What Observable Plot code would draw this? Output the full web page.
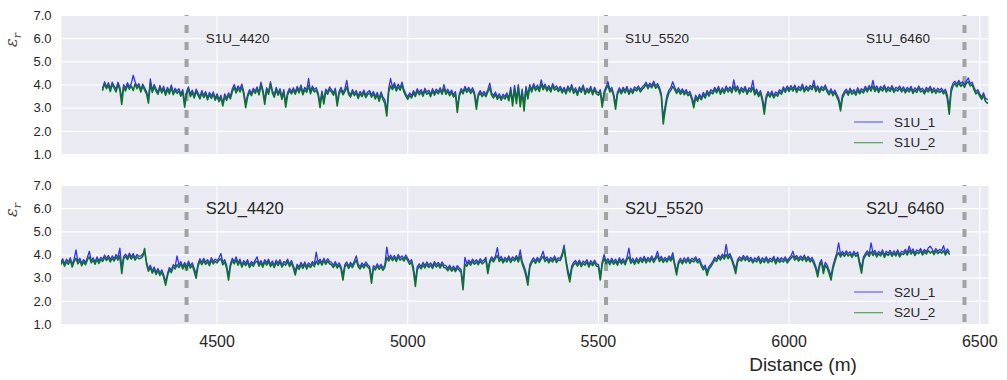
<!DOCTYPE html>
<html>
<head>
<meta charset="utf-8">
<script src="https://cdn.jsdelivr.net/npm/d3@7"></script>
<script src="https://cdn.jsdelivr.net/npm/@observablehq/plot@0.6"></script>
<style>
  body { margin: 0; background: #ffffff; }
  #chart { width: 1007px; height: 380px; font-family: "Liberation Sans", Arial, sans-serif; }
  #chart svg { display: block; }
</style>
</head>
<body>
<div id="chart"></div>
<script>
// Survey stations marked with dashed lines (m)
const stations = [4420, 5520, 6460];
const xTicks = [4500, 5000, 5500, 6000, 6500];
const yTicks = [1, 2, 3, 4, 5, 6, 7];

// Sampling of the permittivity profiles (distance in m)
const sampleStep = 5;
const s1Start = 4200;
const s2Start = 4090;

// Line S1U, receiver 1 (relative permittivity), one row per 100 m
const s1u1 = [
  3.88, 4.14, 3.92, 4.10, 3.84, 4.12, 3.96, 3.82, 4.12, 3.90, 3.40, 4.02, 3.86, 4.10, 3.92, 4.06, 4.42, 4.14, 3.94, 4.06,
  3.80, 4.04, 3.88, 3.72, 3.40, 4.26, 3.78, 4.02, 3.84, 3.70, 3.98, 3.76, 3.94, 3.66, 3.90, 3.72, 4.00, 3.68, 3.86, 3.74,
  3.84, 3.62, 3.80, 3.20, 3.72, 3.92, 3.60, 3.78, 3.54, 3.82, 3.66, 3.50, 3.76, 3.56, 3.72, 3.46, 3.68, 3.52, 3.70, 3.44,
  3.62, 3.38, 3.56, 3.22, 3.62, 3.44, 3.66, 3.52, 3.84, 4.02, 3.76, 3.96, 3.82, 4.04, 3.70, 3.20, 3.58, 3.80, 3.64, 3.86,
  3.74, 3.92, 3.68, 4.12, 3.80, 3.36, 3.88, 3.70, 4.14, 3.76, 3.58, 3.90, 3.66, 3.84, 3.50, 3.80, 3.20, 3.68, 3.86, 3.72,
  3.88, 3.70, 3.94, 3.76, 4.00, 3.68, 3.90, 3.78, 4.28, 3.72, 3.96, 3.80, 3.88, 3.66, 3.22, 3.74, 3.36, 3.82, 3.70, 3.92,
  3.80, 3.66, 3.86, 3.28, 3.72, 3.90, 3.68, 3.82, 4.20, 3.70, 3.58, 3.80, 3.64, 3.76, 3.52, 3.72, 3.60, 3.78, 3.56, 3.70,
  3.76, 3.58, 3.72, 3.50, 3.68, 3.42, 3.70, 3.48, 3.36, 2.90, 3.84, 4.28, 3.90, 4.10, 3.84, 4.04, 3.88, 4.12, 3.80, 3.62,
  3.48, 3.66, 3.54, 3.76, 3.60, 3.84, 3.68, 3.80, 3.62, 3.86, 3.70, 3.78, 3.60, 3.84, 3.66, 3.82, 3.72, 3.88, 3.70, 4.02,
  3.70, 3.82, 3.64, 3.78, 3.58, 3.72, 3.04, 3.60, 3.84, 3.72, 3.94, 3.78, 3.90, 3.74, 3.88, 3.68, 3.18, 3.62, 3.76, 3.60,
  3.72, 3.60, 3.80, 4.08, 3.66, 3.54, 3.70, 3.48, 3.62, 3.44, 3.60, 3.50, 3.66, 3.42, 3.90, 3.30, 3.98, 3.40, 4.02, 3.28,
  3.82, 3.10, 3.94, 3.58, 4.02, 3.80, 4.06, 3.86, 4.00, 3.82, 4.22, 3.90, 4.04, 3.84, 3.98, 3.80, 4.06, 3.88, 3.96, 3.82,
  3.94, 3.76, 3.90, 3.72, 3.96, 3.80, 4.02, 3.74, 3.88, 3.66, 3.92, 3.78, 4.00, 3.70, 3.86, 3.76, 3.94, 3.68, 3.90, 3.72,
  3.66, 3.80, 3.20, 3.72, 3.92, 4.14, 3.80, 3.90, 3.62, 3.16, 3.70, 3.88, 3.72, 3.90, 3.76, 3.94, 3.70, 3.86, 3.74, 3.92,
  3.84, 3.96, 3.80, 3.92, 4.00, 4.12, 3.94, 4.08, 3.98, 4.16, 3.96, 4.06, 3.90, 3.62, 2.60, 3.10, 3.56, 3.78, 3.90, 4.14,
  3.90, 3.74, 3.88, 3.70, 3.84, 3.68, 3.80, 3.64, 3.72, 3.48, 3.20, 3.56, 3.40, 3.60, 3.46, 3.68, 3.54, 3.76, 3.62, 3.80,
  3.72, 3.90, 3.76, 3.94, 3.70, 3.88, 3.74, 3.96, 3.80, 3.92, 3.76, 4.22, 3.82, 3.96, 3.72, 3.90, 3.78, 3.94, 3.70, 3.88,
  3.80, 4.20, 3.68, 3.82, 3.60, 3.76, 3.44, 2.98, 3.54, 3.72, 3.58, 3.74, 3.54, 3.70, 3.62, 3.80, 3.70, 3.92, 3.78, 3.96,
  3.82, 3.98, 3.84, 4.00, 3.78, 3.94, 3.86, 4.04, 3.80, 3.96, 3.84, 3.98, 3.90, 4.20, 3.82, 3.96, 3.78, 3.94, 3.86, 4.00,
  3.80, 3.68, 3.84, 3.64, 3.78, 3.60, 3.44, 3.08, 3.56, 3.72, 3.82, 3.66, 3.86, 3.70, 3.80, 3.66, 3.88, 3.72, 3.84, 3.76,
  3.94, 3.80, 3.98, 3.84, 4.20, 3.82, 3.96, 3.78, 3.94, 3.84, 4.00, 3.80, 3.92, 3.82, 3.98, 3.78, 3.90, 3.84, 3.96, 3.80,
  3.92, 3.76, 3.90, 3.80, 3.94, 3.74, 3.88, 3.78, 3.96, 3.80, 3.86, 3.72, 3.90, 3.80, 3.94, 3.76, 3.88, 3.74, 3.86, 3.78,
  3.86, 3.72, 3.82, 3.56, 3.00, 3.86, 4.08, 4.16, 4.04, 4.20, 4.06, 4.14, 4.02, 4.18, 4.30, 4.06, 4.12, 3.90, 3.72, 3.80,
  3.62, 3.48, 3.66, 3.42, 3.38
];

// Line S1U, receiver 2
const s1u2 = [
  3.78, 4.06, 3.84, 3.98, 3.72, 4.04, 3.86, 3.70, 4.02, 3.80, 3.16, 3.92, 3.74, 4.00, 3.82, 3.96, 3.76, 4.05, 3.84, 3.98,
  3.70, 3.96, 3.78, 3.62, 3.22, 4.05, 3.68, 3.92, 3.74, 3.60, 3.88, 3.66, 3.84, 3.56, 3.80, 3.62, 3.90, 3.58, 3.76, 3.64,
  3.74, 3.52, 3.70, 3.04, 3.62, 3.80, 3.50, 3.68, 3.44, 3.72, 3.56, 3.40, 3.66, 3.46, 3.62, 3.36, 3.58, 3.42, 3.60, 3.34,
  3.52, 3.28, 3.46, 3.10, 3.50, 3.34, 3.56, 3.40, 3.72, 3.90, 3.66, 3.86, 3.70, 3.92, 3.60, 3.02, 3.48, 3.70, 3.54, 3.76,
  3.64, 3.82, 3.58, 4.00, 3.70, 3.16, 3.78, 3.60, 4.04, 3.66, 3.48, 3.80, 3.56, 3.74, 3.38, 3.70, 3.04, 3.58, 3.76, 3.62,
  3.78, 3.60, 3.84, 3.66, 3.90, 3.58, 3.80, 3.68, 3.98, 3.62, 3.86, 3.70, 3.78, 3.56, 3.02, 3.64, 3.18, 3.72, 3.60, 3.82,
  3.70, 3.56, 3.76, 3.10, 3.62, 3.80, 3.58, 3.72, 3.92, 3.60, 3.48, 3.70, 3.54, 3.66, 3.42, 3.62, 3.50, 3.68, 3.46, 3.60,
  3.66, 3.48, 3.62, 3.40, 3.58, 3.30, 3.60, 3.38, 3.20, 2.66, 3.70, 3.96, 3.80, 3.98, 3.74, 3.92, 3.78, 4.00, 3.70, 3.52,
  3.38, 3.56, 3.44, 3.66, 3.50, 3.74, 3.58, 3.70, 3.52, 3.76, 3.60, 3.68, 3.50, 3.74, 3.56, 3.72, 3.62, 3.78, 3.60, 3.86,
  3.60, 3.72, 3.54, 3.68, 3.48, 3.62, 2.82, 3.50, 3.74, 3.62, 3.84, 3.68, 3.80, 3.64, 3.78, 3.58, 2.96, 3.52, 3.66, 3.50,
  3.62, 3.50, 3.70, 3.88, 3.56, 3.44, 3.60, 3.38, 3.52, 3.34, 3.50, 3.40, 3.56, 3.32, 3.76, 3.10, 3.84, 3.20, 3.90, 3.06,
  3.70, 2.88, 3.82, 3.40, 3.92, 3.70, 3.96, 3.76, 3.90, 3.72, 4.04, 3.80, 3.94, 3.74, 3.88, 3.70, 3.96, 3.78, 3.86, 3.72,
  3.84, 3.66, 3.80, 3.62, 3.86, 3.70, 3.92, 3.64, 3.78, 3.56, 3.82, 3.68, 3.90, 3.60, 3.76, 3.66, 3.84, 3.58, 3.80, 3.62,
  3.56, 3.70, 3.04, 3.62, 3.82, 3.98, 3.70, 3.80, 3.52, 2.96, 3.60, 3.78, 3.62, 3.80, 3.66, 3.84, 3.60, 3.76, 3.64, 3.82,
  3.74, 3.86, 3.70, 3.82, 3.90, 4.02, 3.84, 3.98, 3.88, 4.06, 3.86, 3.96, 3.80, 3.50, 2.32, 2.90, 3.40, 3.66, 3.78, 3.94,
  3.80, 3.64, 3.78, 3.60, 3.74, 3.58, 3.70, 3.54, 3.62, 3.38, 3.02, 3.46, 3.30, 3.50, 3.36, 3.58, 3.44, 3.66, 3.52, 3.70,
  3.62, 3.80, 3.66, 3.84, 3.60, 3.78, 3.64, 3.86, 3.70, 3.82, 3.66, 3.94, 3.72, 3.86, 3.62, 3.80, 3.68, 3.84, 3.60, 3.78,
  3.70, 3.90, 3.58, 3.72, 3.50, 3.66, 3.30, 2.74, 3.40, 3.62, 3.48, 3.64, 3.44, 3.60, 3.52, 3.70, 3.60, 3.82, 3.68, 3.86,
  3.72, 3.88, 3.74, 3.90, 3.68, 3.84, 3.76, 3.92, 3.70, 3.86, 3.74, 3.88, 3.80, 4.00, 3.72, 3.86, 3.68, 3.84, 3.76, 3.90,
  3.70, 3.58, 3.74, 3.54, 3.68, 3.50, 3.30, 2.88, 3.44, 3.62, 3.72, 3.56, 3.76, 3.60, 3.70, 3.56, 3.78, 3.62, 3.74, 3.66,
  3.84, 3.70, 3.88, 3.74, 3.96, 3.72, 3.86, 3.68, 3.84, 3.74, 3.90, 3.70, 3.82, 3.72, 3.88, 3.68, 3.80, 3.74, 3.86, 3.70,
  3.82, 3.66, 3.80, 3.70, 3.84, 3.64, 3.78, 3.68, 3.86, 3.70, 3.76, 3.62, 3.80, 3.70, 3.84, 3.66, 3.78, 3.64, 3.76, 3.68,
  3.76, 3.62, 3.72, 3.40, 2.74, 3.70, 3.96, 4.06, 3.92, 4.10, 3.94, 4.04, 3.90, 4.08, 4.14, 3.96, 4.02, 3.80, 3.62, 3.70,
  3.52, 3.38, 3.56, 3.30, 3.22
];

// Line S2U, receiver 1 (first row runs 4090-4195 m)
const s2u1 = [
  3.68, 3.84, 3.62, 3.82, 3.70, 3.88, 3.60, 3.82, 4.22, 3.72, 3.86, 3.64, 3.80, 3.68, 3.90, 4.16, 3.76, 3.88, 3.70, 3.92, 3.74, 3.90,
  3.82, 4.00, 3.86, 3.98, 3.80, 3.96, 3.84, 4.02, 3.88, 4.30, 3.44, 3.94, 4.04, 3.90, 4.08, 3.92, 4.06, 3.88, 4.02, 3.94,
  3.96, 4.04, 4.12, 3.70, 3.40, 3.56, 3.32, 3.48, 3.26, 3.42, 3.22, 3.36, 3.14, 2.84, 3.20, 3.46, 3.34, 3.58, 3.50, 3.96,
  3.56, 3.72, 3.50, 3.68, 3.46, 3.74, 3.54, 3.66, 3.42, 3.18, 3.62, 3.84, 3.68, 3.86, 3.70, 3.80, 3.64, 3.88, 3.72, 3.82,
  3.76, 3.88, 4.06, 3.68, 3.80, 3.56, 3.10, 3.62, 3.86, 3.72, 3.92, 3.66, 3.82, 3.58, 3.76, 3.64, 3.80, 3.56, 3.72, 3.62,
  3.78, 3.92, 3.62, 3.76, 3.58, 3.80, 3.66, 3.82, 3.60, 3.74, 3.56, 3.78, 3.64, 3.80, 3.58, 3.72, 3.66, 3.82, 3.60, 3.76,
  3.54, 3.30, 3.60, 3.48, 3.68, 3.52, 3.70, 3.50, 3.66, 3.56, 3.72, 3.60, 4.12, 3.68, 3.82, 3.66, 3.86, 3.70, 3.84, 3.72,
  3.68, 3.56, 3.72, 3.54, 3.66, 3.50, 3.12, 3.58, 3.70, 3.52, 3.68, 3.56, 3.74, 3.96, 3.60, 3.50, 3.66, 3.54, 3.70, 3.58,
  3.50, 2.96, 3.54, 3.46, 3.62, 3.48, 3.60, 3.44, 3.58, 4.34, 3.84, 4.00, 3.86, 3.98, 3.82, 4.02, 3.88, 3.96, 3.84, 4.00,
  3.86, 3.70, 3.80, 3.46, 2.86, 3.50, 3.62, 3.50, 3.68, 3.54, 3.70, 3.56, 3.66, 3.52, 3.72, 3.58, 3.68, 3.54, 3.70, 3.56,
  3.54, 3.42, 3.56, 3.40, 3.52, 3.38, 3.54, 3.44, 3.36, 2.72, 3.90, 3.62, 3.78, 3.66, 3.82, 3.70, 3.80, 3.68, 3.84, 3.72,
  3.78, 3.90, 3.36, 3.76, 3.92, 3.80, 3.96, 4.32, 3.82, 3.94, 3.76, 3.90, 3.80, 3.96, 3.78, 3.92, 3.84, 3.98, 3.80, 4.22,
  3.72, 3.52, 3.26, 2.90, 3.58, 3.76, 3.88, 3.74, 3.90, 3.78, 3.94, 4.16, 3.82, 3.92, 3.76, 3.90, 3.80, 3.96, 3.78, 3.88,
  3.86, 4.06, 4.43, 3.80, 3.36, 3.04, 3.52, 3.68, 3.76, 3.62, 3.78, 3.60, 3.74, 3.66, 3.80, 3.58, 3.76, 3.64, 3.78, 3.62,
  3.60, 3.10, 3.70, 4.02, 3.72, 3.84, 3.68, 3.86, 3.70, 3.82, 3.66, 3.88, 3.72, 3.84, 3.68, 3.90, 4.30, 3.74, 3.86, 3.70,
  3.88, 3.74, 3.90, 3.78, 3.94, 3.76, 3.90, 3.80, 3.96, 3.78, 3.92, 4.16, 3.82, 3.94, 3.78, 3.90, 3.80, 3.96, 3.84, 4.10,
  3.66, 3.30, 3.72, 3.86, 3.72, 3.88, 3.76, 3.90, 3.74, 3.86, 3.80, 3.92, 3.76, 3.84, 3.62, 3.46, 3.56, 3.28, 3.50, 3.60,
  3.74, 3.90, 3.82, 4.00, 3.88, 4.04, 3.92, 4.46, 3.94, 4.06, 3.86, 3.62, 3.40, 3.80, 3.92, 3.84, 3.98, 3.86, 3.96, 3.82,
  3.90, 3.76, 3.88, 3.80, 3.94, 3.74, 3.88, 3.78, 3.92, 3.76, 3.86, 3.80, 3.94, 3.72, 3.90, 3.78, 3.88, 3.80, 3.92, 3.76,
  3.86, 3.96, 4.16, 3.88, 3.98, 3.84, 3.96, 3.86, 4.00, 3.82, 3.94, 3.80, 3.90, 3.74, 3.52, 3.22, 3.64, 3.80, 3.40, 3.68,
  3.56, 3.34, 3.10, 3.54, 3.82, 4.08, 4.52, 4.02, 4.16, 4.04, 4.18, 4.06, 4.14, 4.00, 4.16, 4.04, 4.12, 3.72, 3.44, 3.92,
  4.06, 4.18, 4.04, 4.52, 4.08, 4.20, 4.02, 4.16, 4.06, 4.22, 4.00, 4.16, 4.08, 4.20, 4.04, 4.18, 4.06, 4.22, 4.02, 4.16,
  4.12, 4.24, 4.10, 4.38, 4.14, 4.26, 4.08, 4.22, 4.16, 4.28, 4.10, 4.24, 4.14, 4.30, 4.38, 4.26, 4.12, 4.28, 4.16, 4.24,
  4.18, 4.40, 4.10, 4.26, 4.14
];

// Line S2U, receiver 2
const s2u2 = [
  3.58, 3.74, 3.52, 3.70, 3.60, 3.78, 3.48, 3.72, 3.86, 3.62, 3.76, 3.54, 3.70, 3.58, 3.80, 3.92, 3.66, 3.78, 3.60, 3.82, 3.64, 3.80,
  3.72, 3.90, 3.76, 3.88, 3.70, 3.86, 3.74, 3.92, 3.78, 3.96, 3.20, 3.84, 3.94, 3.80, 3.98, 3.82, 3.96, 3.78, 3.92, 3.84,
  3.86, 3.94, 4.28, 3.60, 3.30, 3.46, 3.22, 3.38, 3.16, 3.32, 3.12, 3.26, 3.04, 2.70, 3.10, 3.36, 3.24, 3.48, 3.40, 3.58,
  3.46, 3.62, 3.40, 3.58, 3.36, 3.64, 3.44, 3.56, 3.30, 3.00, 3.52, 3.74, 3.58, 3.76, 3.60, 3.70, 3.54, 3.78, 3.62, 3.72,
  3.66, 3.78, 3.84, 3.58, 3.70, 3.44, 2.92, 3.52, 3.76, 3.62, 3.80, 3.56, 3.72, 3.48, 3.66, 3.54, 3.70, 3.46, 3.62, 3.52,
  3.68, 3.74, 3.52, 3.66, 3.48, 3.70, 3.56, 3.72, 3.50, 3.64, 3.46, 3.68, 3.54, 3.70, 3.48, 3.62, 3.56, 3.72, 3.50, 3.66,
  3.44, 3.14, 3.50, 3.38, 3.58, 3.42, 3.60, 3.40, 3.56, 3.46, 3.62, 3.50, 3.74, 3.58, 3.72, 3.56, 3.76, 3.60, 3.74, 3.62,
  3.58, 3.46, 3.62, 3.44, 3.56, 3.40, 2.92, 3.48, 3.60, 3.42, 3.58, 3.46, 3.64, 3.78, 3.50, 3.40, 3.56, 3.44, 3.60, 3.48,
  3.40, 2.78, 3.44, 3.36, 3.52, 3.38, 3.50, 3.34, 3.48, 3.90, 3.74, 3.90, 3.76, 3.88, 3.72, 3.92, 3.78, 3.86, 3.74, 3.90,
  3.76, 3.60, 3.70, 3.30, 2.64, 3.36, 3.52, 3.40, 3.58, 3.44, 3.60, 3.46, 3.56, 3.42, 3.62, 3.48, 3.58, 3.44, 3.60, 3.46,
  3.44, 3.32, 3.46, 3.30, 3.42, 3.28, 3.44, 3.34, 3.24, 2.50, 3.60, 3.52, 3.68, 3.56, 3.72, 3.60, 3.70, 3.58, 3.74, 3.62,
  3.68, 3.80, 3.20, 3.66, 3.82, 3.70, 3.86, 3.98, 3.72, 3.84, 3.66, 3.80, 3.70, 3.86, 3.68, 3.82, 3.74, 3.88, 3.70, 3.96,
  3.62, 3.40, 3.10, 2.70, 3.46, 3.66, 3.78, 3.64, 3.80, 3.68, 3.84, 3.94, 3.72, 3.82, 3.66, 3.80, 3.70, 3.86, 3.68, 3.78,
  3.76, 3.96, 4.30, 3.70, 3.20, 2.84, 3.40, 3.58, 3.66, 3.52, 3.68, 3.50, 3.64, 3.56, 3.70, 3.48, 3.66, 3.54, 3.68, 3.52,
  3.50, 2.92, 3.60, 3.86, 3.62, 3.74, 3.58, 3.76, 3.60, 3.72, 3.56, 3.78, 3.62, 3.74, 3.58, 3.80, 3.92, 3.64, 3.76, 3.60,
  3.78, 3.64, 3.80, 3.68, 3.84, 3.66, 3.80, 3.70, 3.86, 3.68, 3.82, 3.96, 3.72, 3.84, 3.68, 3.80, 3.70, 3.86, 3.74, 3.92,
  3.56, 3.14, 3.62, 3.76, 3.62, 3.78, 3.66, 3.80, 3.64, 3.76, 3.70, 3.82, 3.66, 3.74, 3.52, 3.36, 3.46, 3.12, 3.40, 3.50,
  3.64, 3.80, 3.72, 3.90, 3.78, 3.94, 3.82, 4.02, 3.84, 3.96, 3.76, 3.50, 3.20, 3.70, 3.82, 3.74, 3.88, 3.76, 3.86, 3.72,
  3.80, 3.66, 3.78, 3.70, 3.84, 3.64, 3.78, 3.68, 3.82, 3.66, 3.76, 3.70, 3.84, 3.62, 3.80, 3.68, 3.78, 3.70, 3.82, 3.66,
  3.76, 3.86, 3.96, 3.78, 3.88, 3.74, 3.86, 3.76, 3.90, 3.72, 3.84, 3.70, 3.80, 3.62, 3.40, 3.06, 3.52, 3.70, 3.20, 3.56,
  3.44, 3.20, 2.92, 3.40, 3.70, 3.96, 4.10, 3.92, 4.06, 3.94, 4.08, 3.96, 4.04, 3.90, 4.06, 3.94, 4.02, 3.60, 3.22, 3.80,
  3.96, 4.08, 3.94, 4.14, 3.98, 4.10, 3.92, 4.06, 3.96, 4.12, 3.90, 4.06, 3.98, 4.10, 3.94, 4.08, 3.96, 4.12, 3.92, 4.06,
  4.02, 4.14, 4.00, 4.20, 4.04, 4.16, 3.98, 4.12, 4.06, 4.18, 4.00, 4.14, 4.04, 4.20, 4.08, 4.16, 4.02, 4.18, 4.06, 4.14,
  4.08, 4.18, 4.00, 4.16, 4.04
];

const seriesColors = { first: "#2f2fff", second: "#10722a" };
const legendColors = { first: "#6262ff", second: "#4fa84f" };
const ink = "#262626";
const font = '"Liberation Sans", Arial, sans-serif';

function toRows(values, start) {
  return values.map((v, i) => ({ d: start + i * sampleStep, v }));
}

// Station label: right of the line, or left of it near the end of the profile
function labelX(s) {
  return s > 6300 ? s - 258 : s + 50;
}

function panel(prefix, start, first, second, bottom) {
  const height = bottom ? 210 : 170;
  const marks = [
    Plot.frame({ fill: "#eaeaf2", stroke: "none" }),
    Plot.gridX(xTicks, { stroke: "#ffffff", strokeOpacity: 1, strokeWidth: 1.1 }),
    Plot.gridY(yTicks, { stroke: "#ffffff", strokeOpacity: 1, strokeWidth: 1.1 }),
    Plot.axisY(yTicks, { tickSize: 0, tickPadding: 10, tickFormat: d3.format(".1f"), fontSize: 13, label: null }),
    Plot.ruleX(stations, { stroke: "#a2a2a2", strokeWidth: 4, strokeDasharray: "8,9", strokeDashoffset: 7 }),
    Plot.line(toRows(first, start), { x: "d", y: "v", stroke: seriesColors.first, strokeWidth: 1.3, clip: true }),
    Plot.line(toRows(second, start), { x: "d", y: "v", stroke: seriesColors.second, strokeWidth: 1.6, clip: true }),
    Plot.text(stations, {
      x: labelX, y: () => 6, text: (s) => `${prefix}_${s}`,
      textAnchor: "start", lineAnchor: "middle",
      fontSize: bottom ? 16.5 : 13.5, fill: ink
    })
  ];
  if (bottom) {
    marks.push(Plot.axisX(xTicks, { tickSize: 0, tickPadding: 11, fontSize: 16, tickFormat: d3.format("d"), label: null }));
  }
  const svg = Plot.plot({
    width: 1007,
    height,
    marginLeft: 61,
    marginRight: 19,
    marginTop: 15,
    marginBottom: height - 15 - 139,
    style: { fontFamily: font, color: ink, background: "transparent", overflow: "visible" },
    x: { domain: [4092, 6523], axis: bottom ? undefined : null },
    y: { domain: [1, 7] },
    marks
  });

  const root = d3.select(svg);

  // y-axis symbol: relative permittivity, epsilon with subscript r
  const ylab = root.append("text")
    .attr("transform", "translate(17,40) rotate(-90)")
    .attr("text-anchor", "middle")
    .attr("fill", "#444444")
    .attr("font-family", '"DejaVu Serif", serif')
    .attr("font-style", "italic")
    .attr("font-size", 16);
  ylab.append("tspan").text("ε");
  ylab.append("tspan").attr("font-size", 11).attr("dy", 4).text("r");

  // Legend
  const names = [`${prefix}_1`, `${prefix}_2`];
  const cols = [legendColors.first, legendColors.second];
  const lg = root.append("g")
    .attr("font-family", font).attr("font-size", 13.5)
    .attr("fill", ink).attr("text-anchor", "start");
  names.forEach((name, i) => {
    const y = 122 + i * 20.7;
    lg.append("line").attr("x1", 854).attr("x2", 883).attr("y1", y).attr("y2", y)
      .attr("stroke", cols[i]).attr("stroke-width", 1.2);
    lg.append("text").attr("x", 894).attr("y", y).attr("dy", "0.35em").text(name);
  });

  if (bottom) {
    root.append("text")
      .attr("x", 803).attr("y", 201)
      .attr("text-anchor", "middle")
      .attr("font-family", font)
      .attr("font-size", 19)
      .attr("fill", ink)
      .text("Distance (m)");
  }
  return svg;
}

const chart = document.getElementById("chart");
chart.append(panel("S1U", s1Start, s1u1, s1u2, false));
chart.append(panel("S2U", s2Start, s2u1, s2u2, true));
</script>
</body>
</html>
